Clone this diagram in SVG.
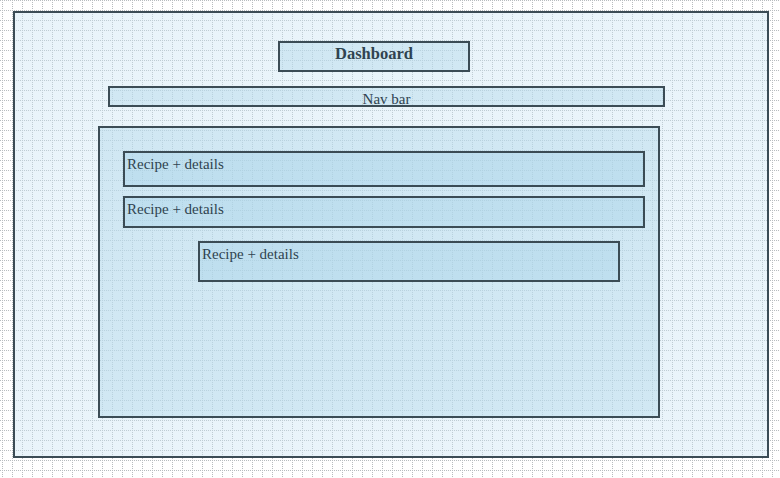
<svg xmlns="http://www.w3.org/2000/svg" width="780" height="478" viewBox="0 0 780 478">
<defs>
<pattern id="grid" x="0" y="0" width="10" height="10" patternUnits="userSpaceOnUse">
<line x1="2.5" y1="0" x2="2.5" y2="10" stroke="#b8bcbf" stroke-width="1" stroke-dasharray="1,1"/>
<line x1="0" y1="0.5" x2="10" y2="0.5" stroke="#b8bcbf" stroke-width="1" stroke-dasharray="1,1"/>
</pattern>
<style>
.box{stroke:#3b4c55;stroke-width:2}
.l1{fill:#c7e4f3;fill-opacity:0.4}
.l2{fill:#b3d9ec;fill-opacity:0.45}
.l3{fill:#a6d2e8;fill-opacity:0.4}
.t{font-family:"Liberation Serif","Times New Roman",serif;font-size:15px;fill:#2f4350}
.b{font-weight:bold;font-size:16.5px}
</style>
</defs>
<rect width="780" height="478" fill="#ffffff"/>
<rect width="780" height="478" fill="url(#grid)"/>
<g id="outer"><rect class="box l1" x="14" y="12" width="754" height="445"/></g>
<g id="dashboard"><rect class="box l2" x="279" y="42" width="190" height="29"/><text class="t b" x="374" y="59" text-anchor="middle">Dashboard</text></g>
<g id="navbar"><rect class="box l2" x="109" y="87" width="555" height="19"/><text class="t" x="386.5" y="104" text-anchor="middle">Nav bar</text></g>
<g id="content"><rect class="box l2" x="99" y="127" width="560" height="290"/></g>
<g id="recipe1"><rect class="box l3" x="124" y="152" width="520" height="34"/><text class="t" x="127" y="169">Recipe + details</text></g>
<g id="recipe2"><rect class="box l3" x="124" y="197" width="520" height="30"/><text class="t" x="127" y="214">Recipe + details</text></g>
<g id="recipe3"><rect class="box l3" x="199" y="242" width="420" height="39"/><text class="t" x="202" y="259">Recipe + details</text></g>
<g id="connectors"></g>
</svg>
